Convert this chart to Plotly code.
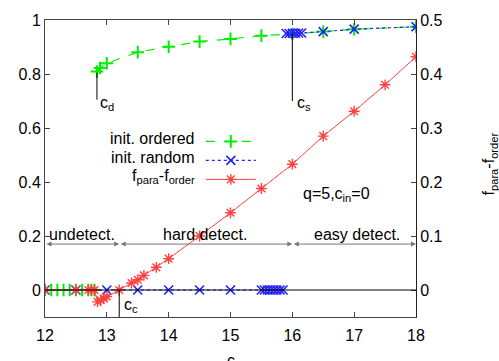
import plotly.graph_objects as go

# ---- data ----
ord_x = [12, 12.1, 12.2, 12.3, 12.4, 12.5, 12.6, 12.7, 12.75, 12.8, None,
         12.84, 12.89, 13.0, 13.5, 14.0, 14.5, 15.0, 15.5, 16.0, 16.5, 17.0, 18.0]
ord_y = [0, 0, 0, 0, 0, 0, 0, 0, 0, 0, None,
         0.809, 0.822, 0.840, 0.881, 0.901, 0.920, 0.930, 0.942, 0.948, 0.957, 0.966, 0.975]

rnd_x = [12, 12.5, 13.0, 13.5, 14.0, 14.5, 15.0, 15.5, 15.55, 15.6, 15.65, 15.7, 15.75, 15.8, 15.85, None,
         15.9, 15.95, 16.0, 16.05, 16.1, 16.15, 16.5, 17.0, 18.0]
rnd_y = [0, 0, 0, 0, 0, 0, 0, 0, 0, 0, 0, 0, 0, 0, 0, None,
         0.950, 0.950, 0.951, 0.951, 0.952, 0.952, 0.957, 0.966, 0.975]

diff_x = [12, 12.5, 12.7, 12.75, 12.8, 12.85, 12.9, 12.95, 13.0, 13.2, 13.4, 13.5, 13.6, 13.8,
          14.0, 14.5, 15.0, 15.5, 16.0, 16.5, 17.0, 17.5, 18.0]
diff_y = [0, 0, 0, 0, 0, -0.022, -0.019, -0.016, -0.012, 0.0, 0.013, 0.019, 0.027, 0.042,
          0.058, 0.100, 0.143, 0.188, 0.233, 0.285, 0.331, 0.380, 0.432]

c_d, c_c, c_s = 12.84, 13.2, 16.0
x_ticks = [12, 13, 14, 15, 16, 17, 18]
y_ticks = [0, 0.2, 0.4, 0.6, 0.8, 1]
y2_ticks = [0, 0.1, 0.2, 0.3, 0.4, 0.5]
regions = [("undetect.", 12, c_c), ("hard detect.", c_c, c_s), ("easy detect.", c_s, 18)]
legend_names = ["init. ordered", "init. random", "f<sub>para</sub>-f<sub>order</sub>"]
x_title = "c"
y2_title = "f<sub>para</sub>-f<sub>order</sub>"

FONT = "Liberation Sans, Arial, sans-serif"

fig = go.Figure()
fig.add_trace(go.Scatter(x=ord_x, y=ord_y, mode="lines+markers", name=" ",
                         line=dict(color="#00ee00", width=1.2, dash="dash"),
                         marker=dict(symbol="cross-thin-open", size=9,
                                     line=dict(color="#00dd00", width=2))))
fig.add_trace(go.Scatter(x=rnd_x, y=rnd_y, mode="lines+markers", name=" ",
                         line=dict(color="#2020ff", width=1.2, dash="dot"),
                         marker=dict(symbol="x-thin-open", size=9,
                                     line=dict(color="#1a1aff", width=1.6))))
fig.add_trace(go.Scatter(x=diff_x, y=diff_y, mode="lines+markers", name=" ", yaxis="y2",
                         line=dict(color="#ff4040", width=1),
                         marker=dict(symbol="asterisk-open", size=9,
                                     line=dict(color="#ff0000", width=1.4))))

# zero line and c markers
fig.add_shape(type="line", xref="x", yref="y", x0=12, x1=18, y0=0, y1=0,
              line=dict(color="black", width=1))
fig.add_shape(type="line", xref="x", yref="y", x0=c_d, x1=c_d, y0=0.805, y1=0.705,
              line=dict(color="black", width=1))
fig.add_shape(type="line", xref="x", yref="y", x0=c_s, x1=c_s, y0=0.95, y1=0.70,
              line=dict(color="black", width=1))
fig.add_shape(type="line", xref="x", yref="y", x0=c_c, x1=c_c, y0=0, y1=-0.1,
              line=dict(color="black", width=1))

ann = []
ann.append(dict(x=c_d + 0.02, y=0.69, text="c<sub>d</sub>", showarrow=False, xanchor="left"))
ann.append(dict(x=c_s + 0.05, y=0.69, text="c<sub>s</sub>", showarrow=False, xanchor="left"))
ann.append(dict(x=c_c + 0.05, y=-0.058, text="c<sub>c</sub>", showarrow=False, xanchor="left"))
ann.append(dict(x=16.71, y=0.355, text="q=5,c<sub>in</sub>=0", showarrow=False))

arrow_y = 0.17
for label, a, b in regions:
    ann.append(dict(x=b, y=arrow_y, ax=a, ay=arrow_y, axref="x", ayref="y", xref="x", yref="y",
                    text="", showarrow=True, arrowhead=2, startarrowhead=2, arrowside="end+start",
                    arrowsize=1, arrowwidth=1, arrowcolor="#777777"))
    ann.append(dict(x=(a + b) / 2 + (0.05 if label == "easy detect." else 0),
                    y=arrow_y + 0.035, text=label, showarrow=False, yanchor="middle"))

# legend text (right-aligned, gnuplot style)
leg_y = [0.602, 0.537, 0.472]
for name, yy in zip(legend_names, leg_y):
    ann.append(dict(x=0.41, y=yy, xref="paper", yref="paper", text=name, showarrow=False,
                    xanchor="right", yanchor="middle"))

# axis titles (x title falls mostly below the visible page, as in the reference)
ann.append(dict(x=0.5, y=-0.112, xref="paper", yref="paper", text=x_title, showarrow=False,
                xanchor="center", yanchor="top"))
ann.append(dict(x=1.198, y=0.515, xref="paper", yref="paper", text=y2_title, showarrow=False,
                textangle=-90, xanchor="center", yanchor="middle"))

for a in ann:
    a.setdefault("font", dict(family=FONT, size=16, color="black"))
fig.update_layout(annotations=ann)

fig.update_layout(
    width=499, height=361,
    margin=dict(l=45, r=83, t=20, b=44, autoexpand=False),
    paper_bgcolor="white", plot_bgcolor="white",
    font=dict(family=FONT, size=16, color="black"),
    showlegend=True,
    legend=dict(x=0.42, y=0.64, xanchor="left", yanchor="top", bgcolor="rgba(0,0,0,0)",
                font=dict(size=12), itemwidth=50, tracegroupgap=0),
    xaxis=dict(range=[12, 18], tickvals=x_ticks, ticks="inside", ticklen=5, automargin=False,
               showline=True, linecolor="#444", mirror="ticks", showgrid=False, zeroline=False,
               ticklabelstandoff=4),
    yaxis=dict(range=[-0.1, 1.0], tickvals=y_ticks, ticktext=["0", "0.2", "0.4", "0.6", "0.8", "1"],
               ticks="inside", ticklen=5, showline=True, linecolor="#444", automargin=False,
               showgrid=False, zeroline=False),
    yaxis2=dict(range=[-0.05, 0.5], tickvals=y2_ticks, ticktext=["0", "0.1", "0.2", "0.3", "0.4", "0.5"],
                overlaying="y", side="right", ticks="inside", ticklen=5, showline=True,
                linecolor="#222", showgrid=False, zeroline=False, automargin=False),
)

fig.write_html("out.html")
